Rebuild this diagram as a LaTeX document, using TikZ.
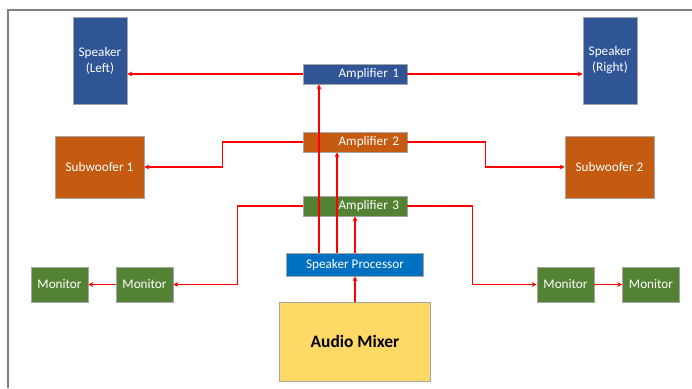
\documentclass[tikz,border=0pt]{standalone}
\usepackage{fontspec}
\setmainfont{Carlito}
\usepackage{tikz}
\usetikzlibrary{calc,positioning,arrows,arrows.meta}
\definecolor{spkblue}{HTML}{2F5597}
\definecolor{subcolor}{HTML}{C55A11}
\definecolor{moncolor}{HTML}{548235}
\definecolor{proccolor}{HTML}{0070C0}
\definecolor{mixcolor}{HTML}{FFD966}
\tikzstyle{unit}      = [rectangle, draw=black!35, line width=0.6pt, text=white, font=\fontsize{13.2}{16}\selectfont, align=center, inner sep=0pt]
\tikzstyle{speaker}   = [unit, fill=spkblue, minimum width=54pt, minimum height=87pt]
\tikzstyle{sub}       = [unit, fill=subcolor, minimum width=89pt, minimum height=62pt]
\tikzstyle{monitor}   = [unit, fill=moncolor, minimum width=57pt, minimum height=35pt]
\tikzstyle{amp}       = [unit, minimum width=104pt, minimum height=20pt, text width=88pt, align=right, inner xsep=8pt]
\tikzstyle{proc}      = [unit, fill=proccolor, minimum width=137pt, minimum height=23pt]
\tikzstyle{mixer}     = [unit, fill=mixcolor, text=black, font=\fontsize{17.4}{20}\selectfont\bfseries, minimum width=151pt, minimum height=79pt]
\tikzstyle{arrow}     = [draw=red, line width=1.4pt, -{Stealth[length=5pt,width=5pt]}]

\begin{document}
\begin{tikzpicture}[x=1pt,y=-1pt]
        \fill[white] (0,0) rectangle (692,388);
        \useasboundingbox (0,0) rectangle (692,388);
        \draw[black!50, line width=1.5pt] (8,388) -- (8,10) -- (692,10);

        \node[speaker] (spkL) at (100,60.5) {Speaker\\(Left)};
        \node[speaker] (spkR) at (610,60.5) {Speaker\\(Right)};
        \node[sub] (sub1) at (99.5,167) {Subwoofer 1};
        \node[sub] (sub2) at (609.5,167) {Subwoofer 2};

        \node[amp, fill=spkblue] (amp1) at (355,74) {Amplifier 1};
        \node[amp, fill=subcolor] (amp2) at (355,142) {Amplifier 2};
        \node[amp, fill=moncolor] (amp3) at (355,206) {Amplifier 3};
        \node[proc] (proc) at (355,264.5) {Speaker Processor};
        \node[mixer] (mixer) at (355,341.5) {Audio Mixer};

        \node[monitor] (monL1) at (59.5,284.5) {Monitor};
        \node[monitor] (monL2) at (144.5,284.5) {Monitor};
        \node[monitor] (monR1) at (565.5,284.5) {Monitor};
        \node[monitor] (monR2) at (651,284.5) {Monitor};

        \draw[arrow] (mixer.north) -- (proc.south);
        \draw[arrow] ([xshift=-36pt]proc.north) -- ([xshift=-36pt]amp1.south);
        \draw[arrow] ([xshift=-18pt]proc.north) -- ([xshift=-18pt]amp2.south);
        \draw[arrow] (proc.north) -- (amp3.south);

        \draw[arrow] (amp1.west) -- (amp1.west -| spkL.east);
        \draw[arrow] (amp1.east) -- (amp1.east -| spkR.west);
        \draw[arrow] (amp2.west) -- ++(-80,0) |- (sub1.east);
        \draw[arrow] (amp2.east) -- ++(78,0) |- (sub2.west);
        \draw[arrow] (amp3.west) -- ++(-65,0) |- (monL2.east);
        \draw[arrow] (amp3.east) -- ++(65,0) |- (monR1.west);
        \draw[arrow] (monL2.west) -- (monL1.east);
        \draw[arrow] (monR1.east) -- (monR2.west);
    \end{tikzpicture}
\end{document}
